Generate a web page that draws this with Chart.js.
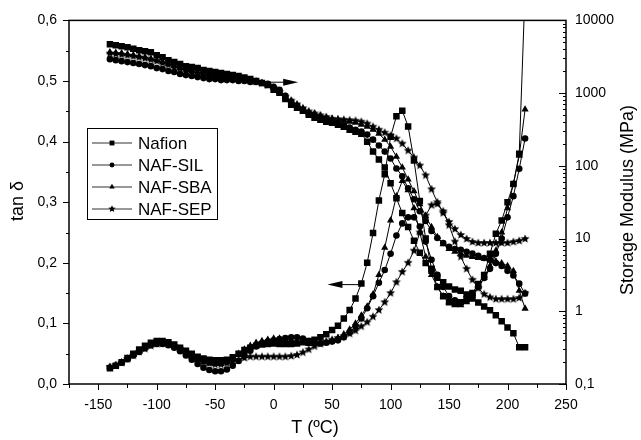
<!DOCTYPE html>
<html>
<head>
<meta charset="utf-8">
<script src="https://cdn.jsdelivr.net/npm/chart.js"></script>
<style>
  body { margin: 0; background: #fff; }
  #wrap { width: 641px; height: 440px; }
</style>
</head>
<body>
<div id="wrap"><canvas id="dma" width="641" height="440"></canvas></div>
<script>
// temperature grid (ºC)
const temps = [
  -140,-135,-130,-125,-120,-115,-110,-105,-100,-95,
  -90,-85,-80,-75,-70,-65,-60,-55,-50,-45,
  -40,-35,-30,-25,-20,-15,-10,-5,0,5,
  10,15,20,25,30,35,40,45,50,55,
  60,65,70,75,80,85,90,95,100,105,
  110,115,120,125,130,135,140,145,150,155,
  160,165,170,175,180,185,190,195,200,205,
  210,215
];

// tan delta (left axis)
const tanNafion = [
  0.026,0.030,0.036,0.043,0.050,0.057,0.063,0.068,0.071,0.071,
  0.069,0.065,0.060,0.055,0.050,0.045,0.042,0.040,0.039,0.039,
  0.040,0.044,0.050,0.056,0.060,0.063,0.065,0.066,0.067,0.066,
  0.066,0.066,0.067,0.069,0.071,0.073,0.077,0.082,0.089,0.096,
  0.108,0.122,0.141,0.166,0.200,0.249,0.303,0.346,0.408,0.442,
  0.451,0.425,0.369,0.302,0.240,0.190,0.160,0.145,0.135,0.133,
  0.135,0.140,0.150,0.165,0.180,0.215,0.248,0.270,0.300,0.330,
  0.380,0.650
];
const tanSIL = [
  0.027,0.030,0.035,0.041,0.047,0.053,0.059,0.064,0.066,0.066,
  0.064,0.060,0.054,0.047,0.040,0.033,0.027,0.023,0.021,0.021,
  0.024,0.030,0.038,0.047,0.055,0.062,0.067,0.070,0.072,0.074,
  0.076,0.077,0.077,0.075,0.071,0.068,0.067,0.068,0.070,0.072,
  0.077,0.085,0.095,0.108,0.125,0.145,0.167,0.188,0.215,0.245,
  0.265,0.275,0.275,0.260,0.235,0.205,0.180,0.160,0.145,0.138,
  0.135,0.138,0.148,0.160,0.175,0.190,0.215,0.240,0.275,0.310,
  0.355,0.405
];
const tanSBA = [
  0.028,0.031,0.036,0.042,0.048,0.054,0.060,0.065,0.068,0.068,
  0.066,0.062,0.057,0.051,0.045,0.040,0.036,0.034,0.033,0.033,
  0.036,0.042,0.050,0.057,0.063,0.068,0.071,0.073,0.075,0.075,
  0.074,0.072,0.070,0.068,0.066,0.066,0.067,0.069,0.072,0.076,
  0.082,0.090,0.100,0.113,0.128,0.148,0.180,0.225,0.270,0.310,
  0.335,0.320,0.290,0.250,0.210,0.180,0.160,0.145,0.135,0.130,
  0.130,0.135,0.145,0.160,0.175,0.195,0.220,0.250,0.290,0.330,
  0.377,0.453
];
const tanSEP = [
  0.028,0.031,0.035,0.041,0.047,0.053,0.058,0.063,0.066,0.067,
  0.066,0.063,0.058,0.052,0.046,0.041,0.037,0.034,0.032,0.032,
  0.034,0.037,0.040,0.043,0.045,0.045,0.045,0.045,0.045,0.045,
  0.045,0.046,0.048,0.052,0.057,0.062,0.066,0.070,0.073,0.076,
  0.079,0.083,0.088,0.095,0.102,0.111,0.122,0.135,0.150,0.168,
  0.185,0.200,0.220,0.250,0.278,0.295,0.297,0.285,0.262,0.235,
  0.210,0.190,0.172,0.158,0.148,0.143,0.140,0.140,0.140,0.140,
  0.142,0.150
];

// storage modulus, MPa (right axis)
const modNafion = [
  4700,4550,4410,4280,4080,3890,3770,3660,3330,3120,
  2840,2670,2510,2350,2280,2210,2080,2010,1950,1890,
  1830,1770,1720,1640,1560,1470,1380,1290,1110,1010,
  833,690,628,571,504,458,431,404,392,368,
  345,314,295,277,215,157,122,95,57.5,35.9,
  22.4,14.4,9.3,6.4,4.6,3.6,2.9,2.5,2.2,1.99,
  1.92,1.70,1.50,1.32,1.16,1.03,0.88,0.73,0.60,0.50,
  0.32,0.32
];
const modSIL = [
  2930,2840,2750,2670,2590,2510,2430,2350,2210,2140,
  2010,1950,1830,1770,1720,1660,1610,1560,1560,1510,
  1510,1510,1470,1470,1420,1420,1380,1340,1220,1110,
  916,758,668,589,520,473,444,417,392,380,
  357,335,314,295,269,229,190,157,126,92,
  72,49,34.8,23.8,17.4,12.7,10.2,8.7,7.7,7.2,
  7.0,6.6,6.2,5.8,5.4,5.1,4.6,4.2,3.6,3.1,
  2.4,1.75
];
const modSBA = [
  3660,3600,3540,3430,3330,3220,3120,2980,2840,2670,
  2510,2350,2210,2110,2010,1920,1830,1770,1720,1690,
  1660,1640,1610,1560,1510,1450,1380,1290,1180,1040,
  887,780,690,610,553,520,488,458,444,431,
  417,404,392,368,345,314,277,229,184,134,
  95,65,44.7,29.7,20.4,14.4,10.5,8.4,7.2,6.6,
  6.2,5.8,5.6,5.4,5.3,5.1,4.9,4.6,4.2,3.6,
  1.92,1.09
];
const modSEP = [
  3500,3450,3380,3300,3200,3100,3000,2880,2750,2600,
  2450,2300,2170,2060,1960,1880,1800,1740,1690,1660,
  1640,1620,1590,1550,1500,1440,1370,1290,1180,1040,
  900,790,700,620,560,525,495,470,444,438,
  431,424,417,404,380,345,314,286,260,237,
  202,162,130,101,74,47.6,31.6,22.4,16.9,13.5,
  11.2,9.9,9.0,8.7,8.7,8.7,8.7,8.7,8.7,9.0,
  9.3,9.9
];

const names = ['Nafion', 'NAF-SIL', 'NAF-SBA', 'NAF-SEP'];
const xTicks = [-150, -100, -50, 0, 50, 100, 150, 200, 250];
const tanTicks = [0, 0.1, 0.2, 0.3, 0.4, 0.5, 0.6];
const modTicks = [0.1, 1, 10, 100, 1000, 10000];
// arrows: which curves go with which axis
const arrows = [
  { from: [-18, 0.498], to: [21, 0.498] },
  { from: [76, 0.164], to: [46, 0.164] }
];

const FONT = "'Liberation Sans', Arial, sans-serif";

function starCanvas(r) {
  const c = document.createElement('canvas');
  const s = Math.ceil(r * 2) + 2;
  c.width = c.height = s;
  const g = c.getContext('2d');
  g.beginPath();
  for (let i = 0; i < 10; i++) {
    const a = -Math.PI / 2 + i * Math.PI / 5;
    const rr = i % 2 ? r * 0.45 : r;
    g.lineTo(s / 2 + rr * Math.cos(a), s / 2 + rr * Math.sin(a));
  }
  g.closePath();
  g.fillStyle = '#000';
  g.fill();
  return c;
}

const star = starCanvas(4.6);
const starSmall = starCanvas(3.8);
const markers = [
  { pointStyle: 'rect', radius: 4.6 },
  { pointStyle: 'circle', radius: 3.3 },
  { pointStyle: 'triangle', radius: 4.2 },
  { pointStyle: star, radius: 4.6 }
];

function pts(arr) {
  return temps.map((t, i) => ({ x: t, y: arr[i] }));
}

const tanSeries = [tanNafion, tanSIL, tanSBA, tanSEP];
const modSeries = [modNafion, modSIL, modSBA, modSEP];
const datasets = [];
names.forEach((n, i) => {
  [[tanSeries[i], 'y'], [modSeries[i], 'y2']].forEach(([arr, ax]) => {
    datasets.push({
      label: n,
      data: pts(arr),
      yAxisID: ax,
      borderColor: '#000',
      backgroundColor: '#000',
      borderWidth: 1,
      pointStyle: markers[i].pointStyle,
      pointRadius: markers[i].radius,
      pointBackgroundColor: '#000',
      pointBorderColor: '#000',
      pointBorderWidth: 0,
      tension: 0
    });
  });
});

const decor = {
  id: 'decor',
  afterDraw(chart) {
    const ctx = chart.ctx;
    const ca = chart.chartArea;
    const sx = chart.scales.x, sy = chart.scales.y, sy2 = chart.scales.y2;
    ctx.save();
    ctx.strokeStyle = '#000';
    ctx.fillStyle = '#000';

    // frame
    ctx.lineWidth = 1.5;
    ctx.strokeRect(ca.left, ca.top, ca.right - ca.left, ca.bottom - ca.top);

    ctx.lineWidth = 1;
    ctx.beginPath();
    // left ticks, outward
    for (let k = 0; k <= 12; k++) {
      const y = Math.round(sy.getPixelForValue(k * 0.05)) + 0.5;
      const len = k % 2 === 0 ? 6 : 3;
      ctx.moveTo(ca.left - len, y);
      ctx.lineTo(ca.left, y);
    }
    // bottom ticks, outward
    for (let t = -175; t <= 250; t += 25) {
      const x = Math.round(sx.getPixelForValue(t)) + 0.5;
      const len = t % 50 === 0 ? 6 : 4;
      ctx.moveTo(x, ca.bottom);
      ctx.lineTo(x, ca.bottom + len);
    }
    // right log ticks, inward
    for (let d = -1; d <= 4; d++) {
      for (let m = 1; m <= 9; m++) {
        const v = m * Math.pow(10, d);
        if (v > 10000) break;
        const y = Math.round(sy2.getPixelForValue(v)) + 0.5;
        const len = m === 1 ? 7 : 3;
        ctx.moveTo(ca.right - len, y);
        ctx.lineTo(ca.right, y);
      }
    }
    ctx.stroke();

    // arrows
    arrows.forEach(a => {
      const x1 = sx.getPixelForValue(a.from[0]);
      const x2 = sx.getPixelForValue(a.to[0]);
      const y = sy.getPixelForValue(a.from[1]);
      const dir = x2 > x1 ? 1 : -1;
      ctx.beginPath();
      ctx.moveTo(x1, y);
      ctx.lineTo(x2 - dir * 10, y);
      ctx.stroke();
      ctx.beginPath();
      ctx.moveTo(x2, y);
      ctx.lineTo(x2 - dir * 15, y - 3.5);
      ctx.lineTo(x2 - dir * 15, y + 3.5);
      ctx.closePath();
      ctx.fill();
    });

    // legend
    const lx = 87, ly = 128, lw = 130, lh = 91;
    ctx.fillStyle = '#fff';
    ctx.fillRect(lx, ly, lw, lh);
    ctx.strokeRect(lx + 0.5, ly + 0.5, lw, lh);
    ctx.font = '17px ' + FONT;
    ctx.textBaseline = 'middle';
    names.forEach((n, i) => {
      const y = ly + 15 + i * 22;
      ctx.strokeStyle = '#333';
      ctx.beginPath();
      ctx.moveTo(lx + 5, y);
      ctx.lineTo(lx + 45, y);
      ctx.stroke();
      ctx.fillStyle = '#000';
      Chart.helpers.drawPoint(ctx, {
        pointStyle: i === 3 ? starSmall : markers[i].pointStyle,
        radius: markers[i].radius * 0.75,
        rotation: 0, borderWidth: 0
      }, lx + 25, y);
      ctx.fillStyle = '#000';
      ctx.fillText(n, lx + 51, y + 1);
    });

    // axis titles
    ctx.font = '18px ' + FONT;
    ctx.textAlign = 'center';
    ctx.textBaseline = 'middle';
    ctx.fillText('T (ºC)', 315, 428);
    ctx.save();
    ctx.translate(18, 201);
    ctx.rotate(-Math.PI / 2);
    ctx.fillText('tan δ', 0, 0);
    ctx.restore();
    ctx.save();
    ctx.translate(628, 200);
    ctx.rotate(-Math.PI / 2);
    ctx.fillText('Storage Modulus (MPa)', 0, 0);
    ctx.restore();

    ctx.restore();
  }
};

const comma = v => String(v).replace('.', ',');

new Chart(document.getElementById('dma'), {
  type: 'line',
  data: { datasets },
  options: {
    responsive: false,
    animation: false,
    devicePixelRatio: 1,
    layout: { padding: { top: 18, left: 0, right: 0, bottom: 0 } },
    plugins: { legend: { display: false }, tooltip: { enabled: false } },
    scales: {
      x: {
        type: 'linear', min: -175, max: 250,
        afterBuildTicks: s => { s.ticks = xTicks.map(v => ({ value: v })); },
        afterFit: s => { s.height = 56; },
        grid: { display: false, drawTicks: false },
        border: { display: false },
        ticks: { color: '#000', font: { size: 14, family: FONT }, padding: 13, maxRotation: 0,
                 callback: v => String(v) }
      },
      y: {
        type: 'linear', position: 'left', min: 0, max: 0.6,
        afterBuildTicks: s => { s.ticks = tanTicks.map(v => ({ value: v })); },
        afterFit: s => { s.width = 69; },
        grid: { display: false, drawTicks: false },
        border: { display: false },
        ticks: { color: '#000', font: { size: 14, family: FONT }, padding: 12,
                 callback: v => v.toFixed(1).replace('.', ',') }
      },
      y2: {
        type: 'logarithmic', position: 'right', min: 0.1, max: 10000,
        afterBuildTicks: s => { s.ticks = modTicks.map(v => ({ value: v })); },
        afterFit: s => { s.width = 75; },
        grid: { display: false, drawTicks: false },
        border: { display: false },
        ticks: { color: '#000', font: { size: 14, family: FONT }, padding: 9,
                 callback: v => comma(v) }
      }
    }
  },
  plugins: [decor]
});
</script>
</body>
</html>
